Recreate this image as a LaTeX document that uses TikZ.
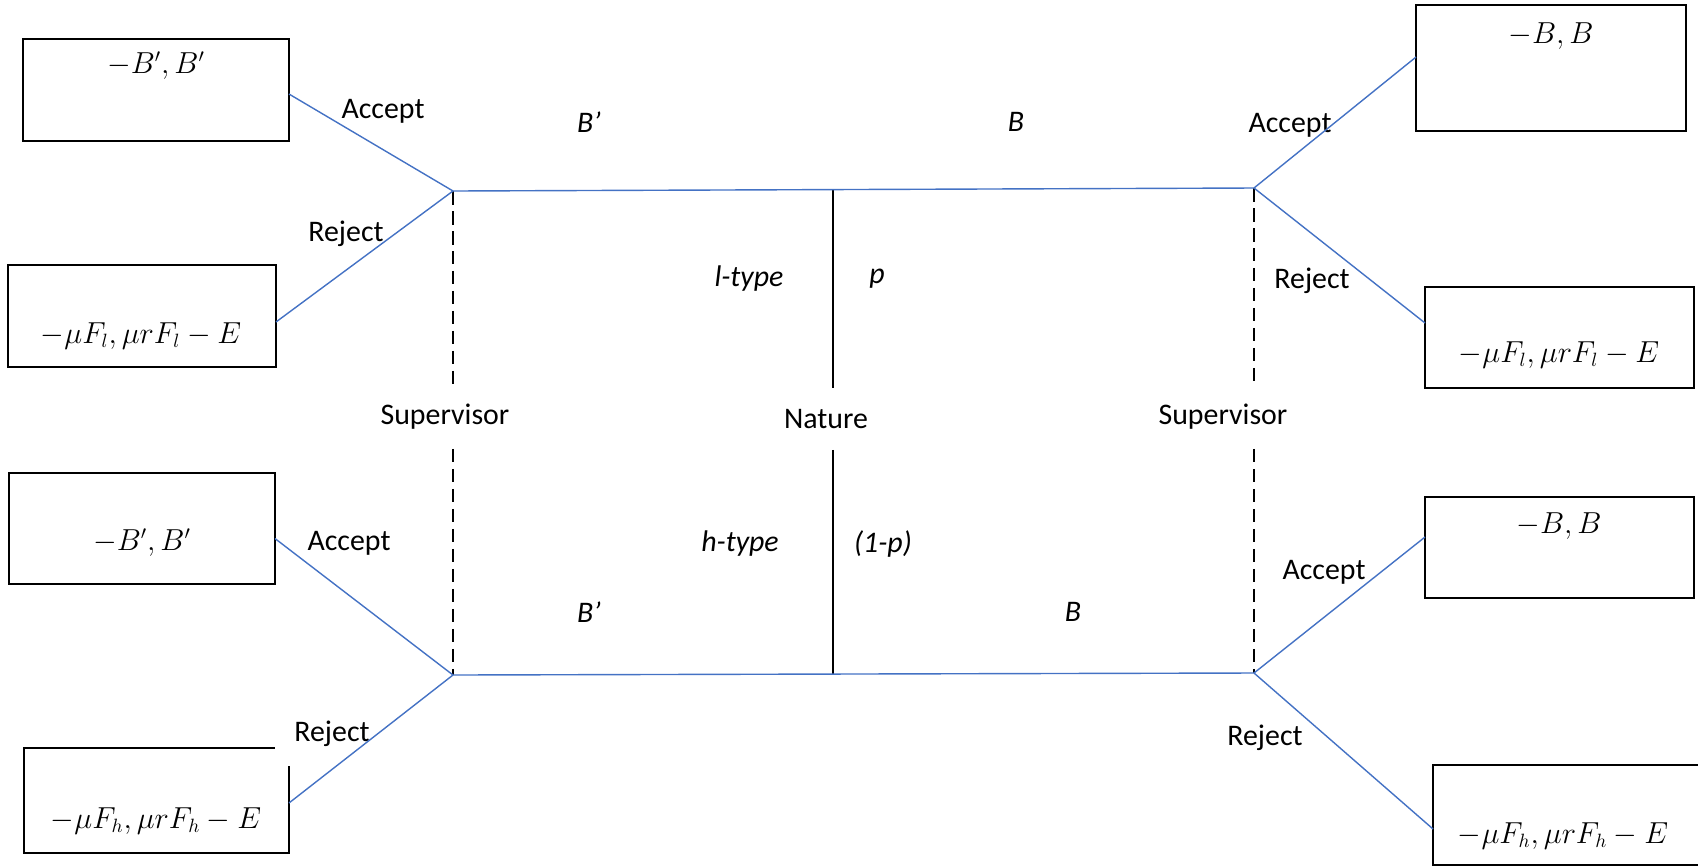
\documentclass[tikz,border=0pt]{standalone}
\usepackage{fontspec}
\setmainfont{Carlito}
\usepackage{tikz}
\usetikzlibrary{calc,positioning}
\definecolor{treeblue}{HTML}{4472C4}

\begin{document}
\begin{tikzpicture}[x=0.02cm, y=-0.02cm,
  payoff/.style={draw=black, line width=1.1pt, inner sep=0pt, outer sep=0pt},
  branch/.style={treeblue, line width=0.8pt},
  infoset/.style={black, line width=1.3pt, dash pattern=on 0.27cm off 0.13cm},
  chance/.style={black, line width=1.6pt},
  lbl/.style={font=\fontsize{17}{20}\selectfont, inner sep=0pt},
  ilbl/.style={font=\fontsize{17}{20}\selectfont\itshape, inner sep=0pt},
  pay/.style={font=\fontsize{16}{19}\selectfont, inner sep=0pt}]

  \useasboundingbox (0,0) rectangle (1698,867);

  % Supervisor decision points and Nature's move
  \coordinate (sl) at (453,191);
  \coordinate (sr) at (1254,188);
  \coordinate (hl) at (453,675);
  \coordinate (hr) at (1254,673);
  \coordinate (nl) at (833,190);
  \coordinate (nh) at (833,674);
  \node[lbl, minimum height=1.22cm] (nature) at (826,419) {Nature};
  \node[lbl, minimum height=1.26cm] (supl) at (445,417) {Supervisor};
  \node[lbl, minimum height=1.26cm] (supr) at (1223,417) {Supervisor};

  % Payoff boxes
  \node[payoff, minimum width=5.32cm, minimum height=2.04cm] (lpA) at (156,90) {};
  \node[payoff, minimum width=5.36cm, minimum height=2.04cm] (lpR) at (142,316) {};
  \node[payoff, minimum width=5.32cm, minimum height=2.22cm] (hpA) at (142,528.5) {};
  \node[inner sep=0pt, outer sep=0pt, minimum width=5.30cm, minimum height=2.10cm] (hpR) at (156.5,800.5) {};
  \draw[line width=1.1pt] ($(hpR.north east)+(-14,0)$) -- (hpR.north west)
    -- (hpR.south west) -- (hpR.south east) -- ($(hpR.north east)+(0,18)$);
  \node[payoff, minimum width=5.40cm, minimum height=2.52cm] (lbA) at (1551,68) {};
  \node[payoff, minimum width=5.38cm, minimum height=2.02cm] (lbR) at (1559.5,337.5) {};
  \node[payoff, minimum width=5.38cm, minimum height=2.02cm] (hbA) at (1559.5,547.5) {};
  \node[payoff, minimum width=5.38cm, minimum height=2.0cm] (hbR) at (1567.5,815) {};

  \node[pay] at (156,66) {$-B',B'$};
  \node[pay] at (141,336) {$-\mu F_l,\mu rF_l-E$};
  \node[pay] at (142,543) {$-B',B'$};
  \node[pay] at (156,821) {$-\mu F_h,\mu rF_h-E$};
  \node[pay] at (1551,36) {$-B,B$};
  \node[pay] at (1559,355) {$-\mu F_l,\mu rF_l-E$};
  \node[pay] at (1559,526) {$-B,B$};
  \node[pay] at (1563,836) {$-\mu F_h,\mu rF_h-E$};

  % Action labels
  \node[lbl] at (383,111) {Accept};
  \node[lbl] at (346,234) {Reject};
  \node[lbl] at (349,543) {Accept};
  \node[lbl] at (332,734) {Reject};
  \node[lbl] at (1290,125) {Accept};
  \node[lbl] at (1312,281) {Reject};
  \node[lbl] at (1324,572) {Accept};
  \node[lbl] at (1265,738) {Reject};

  \node[ilbl] at (749,279) {l-type};
  \node[ilbl] at (877,279) {p};
  \node[ilbl] at (740,544) {h-type};
  \node[ilbl] at (883,544) {(1-p)};
  \node[ilbl] at (589,122) {B’};
  \node[ilbl] at (1016,122) {B};
  \node[ilbl] at (589,612) {B’};
  \node[ilbl] at (1073,612) {B};

  % Nature and information sets
  \draw[chance] (nl) -- (nl |- nature.north);
  \draw[chance] (nature.south -| nh) -- (nh);
  \draw[infoset] (sl) -- (sl |- supl.north);
  \draw[infoset] (supl.south -| hl) -- (hl);
  \draw[infoset] (sr) -- (sr |- supr.north);
  \draw[infoset] (supr.south -| hr) -- (hr);

  % Branches
  \draw[branch] (sl) -- (sr);
  \draw[branch] (hl) -- (hr);
  \draw[branch] (sl) -- ([yshift=-0.08cm]lpA.east);
  \draw[branch] (sl) -- ([yshift=-0.12cm]lpR.east);
  \draw[branch] (hl) -- ([yshift=-0.2cm]hpA.east);
  \draw[branch] (hl) -- ([yshift=-0.05cm]hpR.east);
  \draw[branch] (sr) -- ([yshift=0.22cm]lbA.west);
  \draw[branch] (sr) -- ([yshift=0.29cm]lbR.west);
  \draw[branch] (hr) -- ([yshift=0.21cm]hbA.west);
  \draw[branch] (hr) -- ([yshift=-0.28cm]hbR.west);
\end{tikzpicture}
\end{document}
